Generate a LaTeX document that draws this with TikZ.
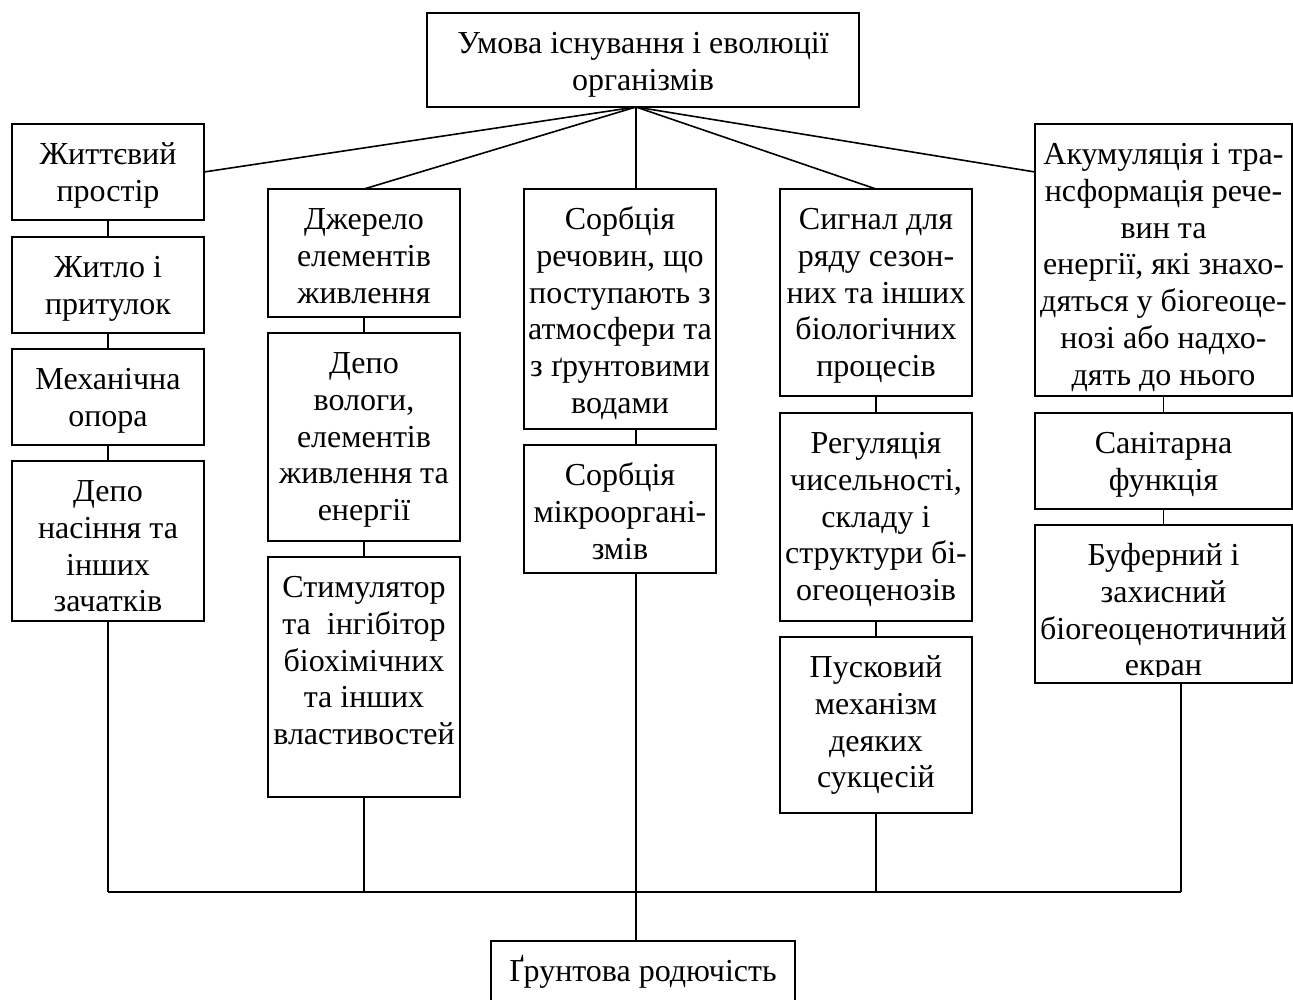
\documentclass[tikz,border=0pt]{standalone}
\usepackage{fontspec}
\setmainfont{Liberation Serif}
\newcommand\bxt[3]{\parbox[c][#2][t]{#1}{\lineskiplimit=-60pt\relax\centering\rule{0pt}{40.5pt}#3\par}}
\tikzset{
  box/.style={draw, line width=2.2pt, inner sep=0pt, outer sep=0pt, font=\fontsize{32pt}{36.8pt}\selectfont},
  txt/.style={inner sep=0pt, outer sep=0pt, font=\fontsize{32pt}{36.8pt}\selectfont},
  conn/.style={line width=1.6pt},
  busline/.style={line width=2.2pt},
}
\begin{document}
\begin{tikzpicture}[x=1pt, y=-1pt]
\useasboundingbox (0,0) rectangle (1293,1000);

% top
\node[box, anchor=north west] (top) at (427,13) {\bxt{432pt}{94pt}{Умова існування і еволюції\\організмів}};
\coordinate (apex) at (636,107);

% column 1
\node[box, anchor=north west] (b1) at (12,124) {\bxt{192pt}{96pt}{Життєвий\\простір}};
\node[box, anchor=north west] (b1a) at (12,237) {\bxt{192pt}{96pt}{Житло і\\притулок}};
\node[box, anchor=north west] (b1b) at (12,349) {\bxt{192pt}{96pt}{Механічна\\опора}};
\node[box, anchor=north west] (b1c) at (12,461) {\bxt{192pt}{160pt}{Депо\\насіння та\\інших\\зачатків}};

% column 2
\node[box, anchor=north west] (b2) at (268,189) {\bxt{192pt}{128pt}{Джерело\\елементів\\живлення}};
\node[box, anchor=north west] (b2a) at (268,333) {\bxt{192pt}{208pt}{Депо\\вологи,\\елементів\\живлення та\\енергії}};
\node[box, anchor=north west] (b2b) at (268,557) {\bxt{192pt}{240pt}{Стимулятор\\та~~інгібітор\\біохімічних\\та інших\\властивостей}};

% column 3
\node[box, anchor=north west] (s1) at (524,189) {\bxt{192pt}{240pt}{Сорбція\\речовин, що\\поступають з\\атмосфери та\\з ґрунтовими\\водами}};
\node[box, anchor=north west] (s2) at (524,445) {\bxt{192pt}{128pt}{Сорбція\\мікроорганi-\\змів}};

% column 4
\node[box, anchor=north west] (b4) at (780,189) {\bxt{192pt}{207pt}{Сигнал для\\ряду сезон-\\них та інших\\біологічних\\процесів}};
\node[box, anchor=north west] (b4a) at (780,413) {\bxt{192pt}{208pt}{Регуляція\\чисельності,\\складу і\\структури бі-\\огеоценозів}};
\node[box, anchor=north west] (b4b) at (780,637) {\bxt{192pt}{176pt}{Пусковий\\механізм\\деяких\\сукцесій}};

% column 5
\node[box, anchor=north west] (b5) at (1035,124) {\bxt{257pt}{272pt}{Акумуляція і тра-\\нсформація рече-\\вин та\\енергії, які знахо-\\дяться у біогеоце-\\нозі або надхо-\\дять до нього}};
\node[box, anchor=north west] (b5a) at (1035,413) {\bxt{257pt}{96pt}{Санітарна\\функція}};
\begin{scope}
  \clip (1035,525) rectangle (1292,676);
  \node[txt, anchor=north west] (b5bt) at (1035,525) {\bxt{257pt}{158pt}{Буферний і\\захисний\\біогеоценотичний\\екран}};
\end{scope}
\node[box, anchor=north west, minimum width=257pt, minimum height=158pt] (b5b) at (1035,525) {};

% bottom
\node[box, anchor=north west] (bot) at (491,941) {\bxt{304pt}{62pt}{Ґрунтова родючість}};

% connectors from top
\draw[conn] (apex) -- (b1.east);
\draw[conn] (apex) -- (b2.north);
\draw[conn] (apex) -- (apex |- s1.north);
\draw[conn] (apex) -- (b4.north);
\draw[conn] (apex) -- (b5.west |- b1.east);

% chains
\draw[conn] (b1.south) -- (b1a.north);
\draw[conn] (b1a.south) -- (b1b.north);
\draw[conn] (b1b.south) -- (b1c.north);
\draw[conn] (b2.south) -- (b2a.north);
\draw[conn] (b2a.south) -- (b2b.north);
\draw[conn] (apex |- s1.south) -- (apex |- s2.north);
\draw[conn] (b4.south) -- (b4a.north);
\draw[conn] (b4a.south) -- (b4b.north);
\draw[conn] (b5.south) -- (b5a.north);
\draw[conn] (b5a.south) -- (b5b.north);

% bus
\coordinate (busR) at (1181,892);
\draw[conn] (b1c.south) -- (b1c.south |- busR);
\draw[conn] (busR |- b5b.south) -- (busR);
\draw[busline] (b1c.south |- busR) -- (busR);
\draw[conn] (b2b.south) -- (b2b.south |- busR);
\draw[conn] (b4b.south) -- (b4b.south |- busR);
\draw[conn] (apex |- s2.south) -- (apex |- bot.north);
\end{tikzpicture}
\end{document}
